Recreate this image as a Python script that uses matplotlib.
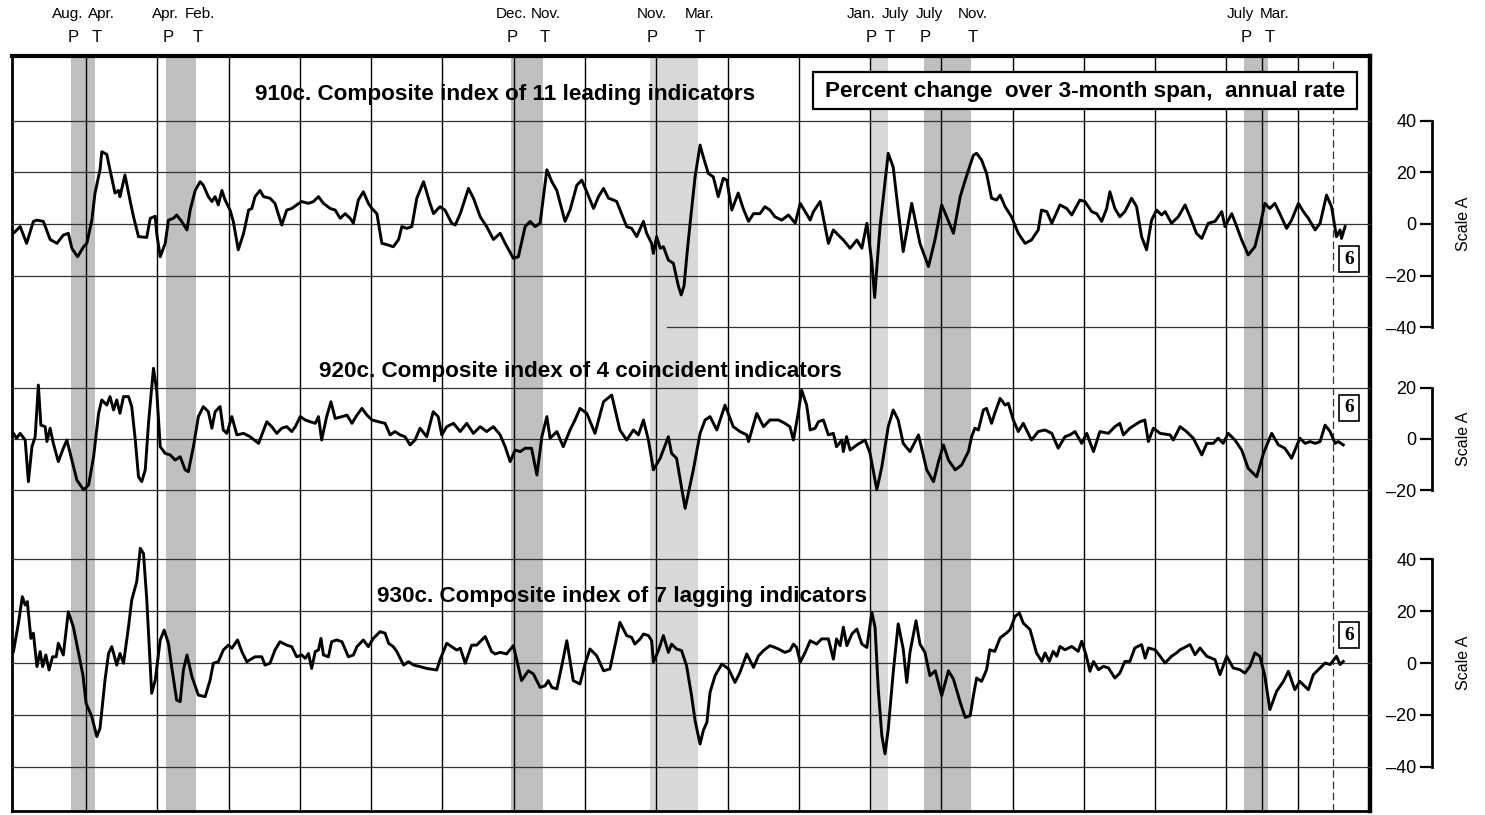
import matplotlib
matplotlib.use("Agg")
import matplotlib.pyplot as plt
from matplotlib.patches import Rectangle
from matplotlib import transforms

plt.rcParams['font.family'] = ['Liberation Sans', 'DejaVu Sans']

# ---------------- data (percent change over 3-month span, annual rate) -----
leading = [(1955.96,-3.6),(1956.15,-1.0),(1956.33,-7.5),(1956.52,1.0),(1956.62,1.5),(1956.80,1.0),(1956.99,-6.0),(1957.18,-7.5),(1957.36,-4.3),(1957.50,-3.6),(1957.60,-9.4),(1957.76,-12.7),(1957.93,-8.8),(1958.02,-7.5),(1958.16,1.5),(1958.25,12.0),(1958.39,21.0),(1958.44,28.0),(1958.58,27.0),(1958.67,21.0),(1958.81,12.0),(1958.91,13.0),(1958.95,10.6),(1959.09,19.0),(1959.23,9.3),(1959.33,2.8),(1959.47,-4.9),(1959.70,-5.2),(1959.80,2.2),(1959.94,3.0),(1959.98,-3.6),(1960.08,-12.7),(1960.22,-7.5),(1960.31,1.5),(1960.45,2.2),(1960.54,3.5),(1960.68,1.0),(1960.83,-2.3),(1960.92,5.4),(1961.06,13.0),(1961.20,16.4),(1961.29,15.0),(1961.43,10.6),(1961.53,8.7),(1961.62,10.6),(1961.71,7.4),(1961.81,13.0),(1961.90,9.3),(1962.04,5.4),(1962.13,1.0),(1962.27,-10.0),(1962.42,-3.6),(1962.56,5.4),(1962.65,6.0),(1962.74,10.6),(1962.88,13.0),(1962.98,10.6),(1963.16,10.0),(1963.30,8.0),(1963.49,-0.4),(1963.63,5.4),(1963.77,6.0),(1963.91,7.4),(1964.05,8.7),(1964.24,8.0),(1964.38,8.7),(1964.52,10.6),(1964.66,8.0),(1964.85,6.0),(1964.99,5.4),(1965.13,2.2),(1965.27,4.0),(1965.41,2.2),(1965.50,0.3),(1965.64,9.3),(1965.78,12.5),(1965.92,8.0),(1966.02,6.0),(1966.16,4.0),(1966.30,-7.5),(1966.44,-8.0),(1966.62,-8.8),(1966.77,-6.0),(1966.86,-1.0),(1967.00,-1.7),(1967.14,-1.0),(1967.28,10.0),(1967.47,16.4),(1967.65,8.0),(1967.75,4.0),(1967.84,5.4),(1967.93,6.7),(1968.07,5.4),(1968.26,0.3),(1968.36,-0.4),(1968.50,4.0),(1968.73,13.8),(1968.87,10.0),(1969.06,2.8),(1969.24,-1.0),(1969.43,-6.0),(1969.62,-3.6),(1969.76,-7.5),(1969.99,-13.3),(1970.13,-12.7),(1970.32,-1.0),(1970.46,1.0),(1970.60,-1.0),(1970.74,0.3),(1970.93,21.0),(1971.07,16.4),(1971.21,13.0),(1971.44,1.0),(1971.58,5.4),(1971.77,15.0),(1971.91,17.0),(1972.05,12.5),(1972.24,6.0),(1972.38,10.6),(1972.52,13.8),(1972.66,10.0),(1972.80,9.3),(1972.89,8.7),(1973.17,-1.0),(1973.31,-1.7),(1973.45,-4.9),(1973.64,1.0),(1973.73,-3.6),(1973.87,-7.5),(1973.92,-11.4),(1974.01,-4.9),(1974.11,-9.4),(1974.20,-8.8),(1974.34,-14.0),(1974.48,-15.2),(1974.62,-24.0),(1974.70,-27.5),(1974.78,-24.0),(1974.86,-12.0),(1974.95,0.3),(1975.09,18.3),(1975.23,30.6),(1975.32,26.0),(1975.46,19.6),(1975.60,18.3),(1975.74,10.6),(1975.88,17.7),(1975.98,17.0),(1976.12,5.4),(1976.30,12.0),(1976.44,6.0),(1976.59,1.0),(1976.73,4.0),(1976.91,4.0),(1977.05,6.7),(1977.19,5.4),(1977.33,2.8),(1977.52,1.5),(1977.71,3.5),(1977.90,0.3),(1978.04,8.0),(1978.18,4.8),(1978.32,1.5),(1978.41,4.8),(1978.60,8.7),(1978.83,-7.5),(1978.97,-2.3),(1979.11,-4.3),(1979.25,-6.2),(1979.44,-9.4),(1979.63,-6.2),(1979.77,-9.4),(1979.91,0.3),(1980.05,-15.0),(1980.13,-28.5),(1980.20,-15.0),(1980.28,-1.0),(1980.51,27.4),(1980.65,22.0),(1980.79,5.4),(1980.93,-10.7),(1981.17,8.0),(1981.40,-7.5),(1981.64,-16.5),(1981.82,-6.2),(1982.01,7.4),(1982.15,2.8),(1982.34,-3.6),(1982.53,10.6),(1982.67,17.0),(1982.90,26.7),(1982.99,27.4),(1983.13,24.8),(1983.27,19.6),(1983.41,10.0),(1983.55,9.3),(1983.65,11.2),(1983.79,6.7),(1983.97,2.8),(1984.16,-3.6),(1984.35,-7.5),(1984.53,-6.2),(1984.72,-2.3),(1984.81,5.4),(1984.96,4.8),(1985.10,0.3),(1985.33,7.4),(1985.52,6.0),(1985.66,3.5),(1985.89,9.3),(1986.03,8.7),(1986.22,4.8),(1986.36,4.0),(1986.50,1.0),(1986.64,6.0),(1986.73,12.5),(1986.87,6.0),(1987.01,2.8),(1987.15,4.8),(1987.34,10.0),(1987.48,6.7),(1987.62,-4.9),(1987.76,-10.0),(1987.90,1.5),(1988.04,5.4),(1988.18,3.5),(1988.28,4.8),(1988.46,0.3),(1988.65,2.8),(1988.84,7.4),(1988.98,2.8),(1989.16,-3.6),(1989.31,-5.6),(1989.49,0.3),(1989.68,1.0),(1989.87,4.8),(1989.96,-1.0),(1990.15,4.0),(1990.29,-1.0),(1990.43,-6.2),(1990.61,-12.0),(1990.80,-8.8),(1990.94,-1.0),(1991.08,8.0),(1991.22,6.0),(1991.36,8.0),(1991.50,4.0),(1991.69,-1.7),(1991.83,1.5),(1992.02,8.0),(1992.16,4.8),(1992.30,2.2),(1992.49,-2.3),(1992.63,0.3),(1992.81,11.2),(1992.95,6.7),(1993.09,-4.9),(1993.19,-2.3),(1993.23,-5.6),(1993.33,-1.0)]

coincident = [(1955.96,2.2),(1956.05,0.3),(1956.15,2.2),(1956.29,-0.4),(1956.38,-16.6),(1956.48,-3.0),(1956.57,0.9),(1956.66,21.0),(1956.73,5.4),(1956.85,4.8),(1956.90,-1.0),(1956.99,4.2),(1957.08,-1.7),(1957.22,-8.8),(1957.36,-3.6),(1957.46,-0.4),(1957.60,-8.2),(1957.74,-16.0),(1957.93,-19.8),(1958.07,-17.9),(1958.21,-6.9),(1958.35,10.0),(1958.44,15.2),(1958.58,13.2),(1958.67,16.5),(1958.77,11.3),(1958.86,15.2),(1958.95,10.0),(1959.05,16.5),(1959.19,16.5),(1959.28,12.6),(1959.38,-0.4),(1959.47,-14.7),(1959.56,-16.6),(1959.66,-12.0),(1959.75,6.1),(1959.89,27.5),(1959.98,19.0),(1960.08,-3.0),(1960.22,-5.6),(1960.36,-6.2),(1960.50,-8.2),(1960.64,-6.9),(1960.78,-12.0),(1960.87,-12.7),(1961.01,-3.0),(1961.15,8.7),(1961.29,12.6),(1961.43,10.6),(1961.53,4.2),(1961.62,10.6),(1961.76,12.6),(1961.85,3.5),(1961.95,2.2),(1962.09,8.7),(1962.23,1.6),(1962.42,2.2),(1962.60,0.9),(1962.84,-1.7),(1963.07,6.7),(1963.21,4.8),(1963.35,2.2),(1963.49,4.2),(1963.63,4.8),(1963.77,2.9),(1963.87,4.8),(1964.01,8.7),(1964.15,7.4),(1964.29,6.7),(1964.43,6.1),(1964.52,8.7),(1964.61,-0.4),(1964.75,8.7),(1964.87,14.5),(1964.99,8.0),(1965.18,8.7),(1965.32,9.3),(1965.46,6.1),(1965.60,9.3),(1965.74,11.9),(1965.88,9.3),(1966.02,7.4),(1966.21,6.7),(1966.39,6.1),(1966.53,1.6),(1966.67,2.9),(1966.81,1.6),(1966.95,0.9),(1967.09,-2.3),(1967.23,-0.4),(1967.37,4.2),(1967.56,0.9),(1967.74,10.6),(1967.88,8.7),(1967.98,1.6),(1968.12,4.8),(1968.31,6.1),(1968.50,2.9),(1968.68,6.1),(1968.87,2.2),(1969.06,4.8),(1969.24,2.9),(1969.43,4.8),(1969.62,1.6),(1969.76,-3.0),(1969.90,-8.8),(1970.04,-4.3),(1970.18,-4.9),(1970.32,-3.6),(1970.50,-3.6),(1970.65,-14.0),(1970.79,0.9),(1970.93,8.7),(1971.02,0.3),(1971.21,2.9),(1971.39,-3.0),(1971.58,3.5),(1971.72,7.4),(1971.86,11.9),(1972.05,10.0),(1972.28,2.2),(1972.52,14.5),(1972.75,17.1),(1972.98,3.5),(1973.17,-0.4),(1973.36,3.5),(1973.50,1.6),(1973.64,7.4),(1973.78,-0.4),(1973.92,-12.0),(1974.11,-7.5),(1974.34,0.9),(1974.43,-5.6),(1974.57,-7.5),(1974.81,-27.0),(1975.04,-12.0),(1975.23,2.2),(1975.37,7.4),(1975.51,8.7),(1975.70,3.5),(1975.93,13.2),(1976.16,4.8),(1976.35,2.9),(1976.54,1.6),(1976.59,-1.0),(1976.82,10.0),(1977.01,4.8),(1977.19,7.4),(1977.43,7.4),(1977.61,6.1),(1977.75,4.8),(1977.85,-0.4),(1977.99,10.6),(1978.08,19.0),(1978.22,13.2),(1978.32,3.5),(1978.46,4.2),(1978.55,6.7),(1978.69,7.4),(1978.83,1.6),(1978.97,2.2),(1979.06,-3.0),(1979.21,-0.4),(1979.25,-4.9),(1979.34,0.9),(1979.44,-4.3),(1979.63,-2.3),(1979.86,-0.4),(1980.00,-5.6),(1980.19,-19.8),(1980.33,-10.8),(1980.51,4.8),(1980.65,11.3),(1980.79,7.4),(1980.93,-1.7),(1981.12,-4.9),(1981.36,1.6),(1981.59,-12.0),(1981.78,-16.6),(1981.92,-8.8),(1982.06,-2.3),(1982.20,-8.2),(1982.39,-12.0),(1982.57,-10.1),(1982.76,-4.9),(1982.85,0.9),(1982.94,4.2),(1983.04,3.5),(1983.18,11.3),(1983.27,11.9),(1983.41,6.1),(1983.50,10.0),(1983.65,15.8),(1983.79,13.2),(1983.88,13.9),(1984.02,7.4),(1984.16,2.9),(1984.30,6.1),(1984.53,-0.4),(1984.72,2.9),(1984.91,3.5),(1985.10,2.2),(1985.28,-3.6),(1985.47,0.9),(1985.61,1.6),(1985.75,2.9),(1985.94,-1.7),(1986.08,2.2),(1986.27,-4.9),(1986.45,2.9),(1986.69,2.2),(1986.87,4.8),(1987.01,6.1),(1987.11,1.6),(1987.29,4.2),(1987.57,6.7),(1987.71,7.4),(1987.81,-1.0),(1987.95,4.2),(1988.14,2.2),(1988.42,1.6),(1988.51,-0.4),(1988.70,4.8),(1988.88,2.9),(1989.07,0.3),(1989.31,-6.2),(1989.45,-1.7),(1989.63,-1.7),(1989.77,0.3),(1989.91,-1.7),(1990.05,2.2),(1990.24,-0.4),(1990.43,-4.3),(1990.61,-11.4),(1990.85,-14.7),(1991.04,-5.6),(1991.27,2.2),(1991.46,-2.3),(1991.64,-3.6),(1991.83,-7.5),(1992.06,0.3),(1992.21,-1.7),(1992.35,-1.0),(1992.49,-1.7),(1992.63,-1.0),(1992.77,5.4),(1992.91,2.9),(1993.05,-1.7),(1993.14,-1.0),(1993.28,-2.3)]

lagging = [(1955.96,4.4),(1956.10,15.3),(1956.21,25.6),(1956.29,22.4),(1956.35,23.7),(1956.45,9.5),(1956.52,11.5),(1956.62,-1.4),(1956.71,4.4),(1956.78,-1.4),(1956.87,3.1),(1956.96,-2.7),(1957.06,2.4),(1957.16,2.4),(1957.22,7.6),(1957.36,3.1),(1957.50,19.8),(1957.64,14.0),(1957.81,2.4),(1957.91,-4.6),(1958.00,-15.6),(1958.16,-20.7),(1958.30,-28.4),(1958.39,-25.2),(1958.53,-6.6),(1958.63,3.7),(1958.72,6.3),(1958.86,-0.8),(1958.95,3.7),(1959.05,-0.1),(1959.19,14.0),(1959.28,24.3),(1959.42,31.4),(1959.52,44.3),(1959.61,42.3),(1959.70,25.0),(1959.84,-11.7),(1959.94,-6.6),(1960.08,8.9),(1960.19,12.7),(1960.31,7.6),(1960.40,-1.4),(1960.54,-14.3),(1960.64,-14.9),(1960.73,-2.7),(1960.83,3.1),(1960.97,-5.3),(1961.15,-12.4),(1961.34,-13.0),(1961.48,-6.6),(1961.57,-0.1),(1961.71,0.5),(1961.85,5.0),(1961.99,6.9),(1962.09,5.7),(1962.25,8.9),(1962.37,4.4),(1962.51,0.5),(1962.74,2.4),(1962.93,2.4),(1963.02,-0.8),(1963.16,-0.1),(1963.30,5.0),(1963.44,8.2),(1963.63,6.9),(1963.77,6.3),(1963.91,2.4),(1964.05,3.1),(1964.15,1.8),(1964.24,3.7),(1964.33,-2.1),(1964.43,4.4),(1964.52,5.0),(1964.59,9.5),(1964.66,3.1),(1964.80,2.4),(1964.89,8.2),(1965.03,8.9),(1965.18,8.2),(1965.36,2.4),(1965.50,3.1),(1965.60,6.3),(1965.78,8.9),(1965.92,6.3),(1966.06,9.5),(1966.25,12.1),(1966.39,11.5),(1966.49,7.6),(1966.62,6.3),(1966.72,4.4),(1966.91,-0.8),(1967.05,0.5),(1967.19,-0.8),(1967.37,-1.4),(1967.56,-2.1),(1967.84,-2.7),(1967.93,1.2),(1968.12,7.6),(1968.26,6.3),(1968.40,5.0),(1968.50,5.7),(1968.64,-0.1),(1968.82,6.9),(1968.96,6.9),(1969.20,10.2),(1969.38,4.4),(1969.48,3.5),(1969.62,4.1),(1969.80,3.5),(1969.99,6.7),(1970.22,-6.8),(1970.41,-3.0),(1970.55,-4.2),(1970.74,-9.4),(1970.88,-8.8),(1970.97,-6.8),(1971.07,-9.4),(1971.21,-10.0),(1971.35,-1.0),(1971.49,8.6),(1971.67,-6.8),(1971.86,-8.1),(1972.00,-0.4),(1972.14,5.4),(1972.33,2.8),(1972.52,-3.0),(1972.70,-2.3),(1972.84,6.7),(1972.98,15.7),(1973.17,10.6),(1973.31,9.9),(1973.40,7.3),(1973.55,9.3),(1973.64,11.2),(1973.78,10.6),(1973.87,8.6),(1973.92,0.3),(1974.06,4.8),(1974.20,10.6),(1974.34,4.1),(1974.43,7.3),(1974.57,5.4),(1974.71,4.8),(1974.85,-1.0),(1974.99,-12.6),(1975.09,-22.3),(1975.23,-31.3),(1975.32,-26.1),(1975.42,-22.9),(1975.51,-11.3),(1975.65,-4.9),(1975.84,-0.4),(1976.03,-2.3),(1976.21,-7.5),(1976.35,-3.6),(1976.54,3.5),(1976.73,-1.7),(1976.87,2.8),(1977.01,4.8),(1977.19,6.7),(1977.33,6.0),(1977.43,5.4),(1977.61,4.1),(1977.75,4.8),(1977.85,7.3),(1977.94,6.0),(1978.04,0.3),(1978.18,4.1),(1978.32,8.6),(1978.50,7.3),(1978.64,9.3),(1978.83,9.3),(1978.97,1.5),(1979.06,9.3),(1979.16,6.7),(1979.25,13.8),(1979.35,6.7),(1979.49,11.2),(1979.63,13.1),(1979.77,7.3),(1979.91,6.0),(1980.05,19.6),(1980.14,13.8),(1980.23,-10.0),(1980.33,-28.0),(1980.42,-35.1),(1980.51,-25.5),(1980.65,-3.6),(1980.79,15.1),(1980.93,5.4),(1981.03,-7.5),(1981.12,4.1),(1981.29,16.3),(1981.40,7.3),(1981.54,4.1),(1981.68,-4.9),(1981.83,-3.0),(1982.01,-12.6),(1982.20,-3.0),(1982.34,-6.2),(1982.53,-15.2),(1982.67,-21.0),(1982.81,-20.3),(1982.90,-12.6),(1982.99,-5.8),(1983.13,-7.1),(1983.27,-2.6),(1983.36,5.1),(1983.50,4.5),(1983.65,9.7),(1983.83,11.6),(1983.93,12.9),(1984.07,18.0),(1984.19,19.3),(1984.30,15.4),(1984.49,12.9),(1984.67,3.9),(1984.82,0.6),(1984.91,3.9),(1985.03,0.6),(1985.14,4.5),(1985.24,2.6),(1985.33,6.4),(1985.47,5.1),(1985.66,6.4),(1985.84,4.5),(1985.94,8.4),(1986.06,3.2),(1986.17,-3.2),(1986.27,0.6),(1986.41,-2.6),(1986.55,-1.3),(1986.69,-1.9),(1986.87,-5.8),(1987.01,-3.9),(1987.15,0.6),(1987.29,0.6),(1987.43,5.8),(1987.62,7.1),(1987.72,1.9),(1987.81,5.8),(1988.00,5.1),(1988.14,2.6),(1988.28,0.0),(1988.46,2.6),(1988.60,3.9),(1988.70,5.1),(1988.88,6.4),(1988.98,7.1),(1989.12,3.2),(1989.26,5.8),(1989.45,2.6),(1989.68,1.3),(1989.82,-4.5),(1990.01,2.6),(1990.19,-1.9),(1990.38,-2.6),(1990.52,-3.9),(1990.66,-1.3),(1990.80,3.9),(1990.94,2.6),(1991.08,-5.1),(1991.22,-18.0),(1991.41,-10.9),(1991.60,-7.1),(1991.74,-3.2),(1991.92,-10.3),(1992.06,-7.1),(1992.30,-10.3),(1992.44,-4.5),(1992.58,-2.6),(1992.77,0.0),(1992.91,-0.6),(1993.09,2.6),(1993.19,-0.6),(1993.28,0.6)]

# business-cycle peaks (P) and troughs (T): (year, month)
peaks = [(1957, 8), (1960, 4), (1969, 12), (1973, 11), (1980, 1), (1981, 7), (1990, 7)]
troughs = [(1958, 4), (1961, 2), (1970, 11), (1975, 3), (1980, 7), (1982, 11), (1991, 3)]
month_names = ['Jan.', 'Feb.', 'Mar.', 'Apr.', 'May', 'June', 'July', 'Aug.',
               'Sept.', 'Oct.', 'Nov.', 'Dec.']

titles = ['910c. Composite index of 11 leading indicators',
          '920c. Composite index of 4 coincident indicators',
          '930c. Composite index of 7 lagging indicators']
box_text = 'Percent change  over 3-month span,  annual rate'
series_no = '6'
scale_ticks = [[40, 20, 0, -20, -40], [20, 0, -20], [40, 20, 0, -20, -40]]

# ---------------- figure geometry (pixel layout) ----------------
W, H = 1485, 815
fig = plt.figure(figsize=(W / 100, H / 100), dpi=100)
fig.patch.set_facecolor('white')


def rect(x0, y0, x1, y1):
    return [x0 / W, 1 - y1 / H, (x1 - x0) / W, (y1 - y0) / H]


XL, XR = 12, 1370
YR0, YR1 = 1955.92, 1994.03

# frame axes (grid, shading)
axf = fig.add_axes(rect(XL, 56, XR, 811))
axf.set_xlim(YR0, YR1)
axf.set_ylim(0, 1)
axf.set_xticks([]); axf.set_yticks([])
for s, lw in [('left', 2.0), ('bottom', 2.0), ('top', 3.0), ('right', 3.2)]:
    axf.spines[s].set_linewidth(lw)


def ym(y, m):
    return y + (m - 1) / 12.0


shade_cols = ['#bfbfbf', '#bfbfbf', '#bfbfbf', '#d8d8d8', '#d8d8d8', '#bfbfbf', '#bfbfbf']
for (py, pm), (ty, tm), c in zip(peaks, troughs, shade_cols):
    axf.axvspan(ym(py, pm), ym(ty, tm), color=c, lw=0, zorder=1)

for yr in list(range(1958, 1993, 2)) + [1991]:
    axf.axvline(yr, color='black', lw=1.0, zorder=2)
axf.axvline(1993, color='#333333', lw=0.9, ls=(0, (6, 3)), zorder=2)

# recession labels above the frame
trans = transforms.blended_transform_factory(axf.transData, fig.transFigure)
events = []
for (py, pm), (ty, tm) in zip(peaks, troughs):
    events.append((py + (pm - 0.5) / 12, month_names[pm - 1], 'P'))
    events.append((ty + (tm - 0.5) / 12, month_names[tm - 1], 'T'))
events.sort()
pos = [e[0] for e in events]
mind = 0.95
for _ in range(200):
    for i in range(len(pos) - 1):
        gap = pos[i + 1] - pos[i]
        if gap < mind:
            d = (mind - gap) / 2
            pos[i] -= d
            pos[i + 1] += d
for (x, mn, pt), lx in zip(events, pos):
    axf.text(lx, 1 - 14 / H, mn, transform=trans, ha='center', va='center',
             fontsize=11, clip_on=False)
    axf.text(x, 1 - 38 / H, pt, transform=trans, ha='center', va='center',
             fontsize=12, clip_on=False)

# ---------------- panels ----------------
panel_px = [(120.8, 327.2, 40), (387.6, 490.4, 20), (559.4, 766.6, 40)]
series = [leading, coincident, lagging]
title_pos = [(1969.76, 48.1), (1971.86, 24.2), (1973.04, 23.7)]
box6_y = [-13.6, 12.1, 10.8]

for k, ((top, bot, lim), data) in enumerate(zip(panel_px, series)):
    ax = fig.add_axes(rect(XL, top, XR, bot))
    ax.patch.set_visible(False)
    ax.set_xlim(YR0, YR1)
    ax.set_ylim(-lim, lim)
    ax.set_xticks([]); ax.set_yticks([])
    for s in ax.spines.values():
        s.set_visible(False)
    for t in scale_ticks[k]:
        if k == 0 and t == -40:
            ax.plot([1974.3, YR1], [t, t], color='#333333', lw=0.9, zorder=1,
                    clip_on=False)
        else:
            ax.axhline(t, color='#333333', lw=0.9, zorder=1, clip_on=False)
    tx = [p[0] for p in data]
    vy = [p[1] for p in data]
    ax.plot(tx, vy, color='black', lw=2.1, clip_on=False, zorder=3,
            solid_joinstyle='round')
    ax.text(title_pos[k][0], title_pos[k][1], titles[k], ha='center',
            va='baseline', fontsize=16.2, fontweight='bold', clip_on=False,
            zorder=4)
    ax.text(1993.44, box6_y[k], series_no, ha='center', va='center',
            fontsize=14, fontweight='bold', family=['Liberation Serif', 'DejaVu Serif'],
            zorder=5, clip_on=False,
            bbox=dict(boxstyle='square,pad=0.25', fc='white', ec='black', lw=1.2))
    if k == 0:
        ax.add_patch(Rectangle((1978.40, 44.6), 1993.66 - 1978.40, 58.9 - 44.6,
                               fc='white', ec='black', lw=1.6, zorder=5,
                               clip_on=False))
        ax.text(1986.03, 49.2, box_text, ha='center', va='baseline',
                fontsize=16.2, fontweight='bold', zorder=6, clip_on=False)

    # right-hand scale
    axs = fig.add_axes(rect(1432, top, 1432.5, bot))
    axs.patch.set_visible(False)
    axs.set_ylim(-lim, lim)
    axs.set_xticks([])
    for s in ['top', 'right', 'bottom']:
        axs.spines[s].set_visible(False)
    axs.spines['left'].set_linewidth(2.0)
    axs.set_yticks(scale_ticks[k])
    axs.set_yticklabels([f'{t}' if t >= 0 else f'\u2013{abs(t)}' for t in scale_ticks[k]])
    axs.tick_params(axis='y', direction='out', length=9, width=1.6,
                    labelsize=13, pad=2)
    axs.yaxis.set_label_position('right')
    axs.set_ylabel('Scale A', fontsize=11.5, labelpad=17)

fig.savefig('out.png', dpi=100, facecolor='white')
